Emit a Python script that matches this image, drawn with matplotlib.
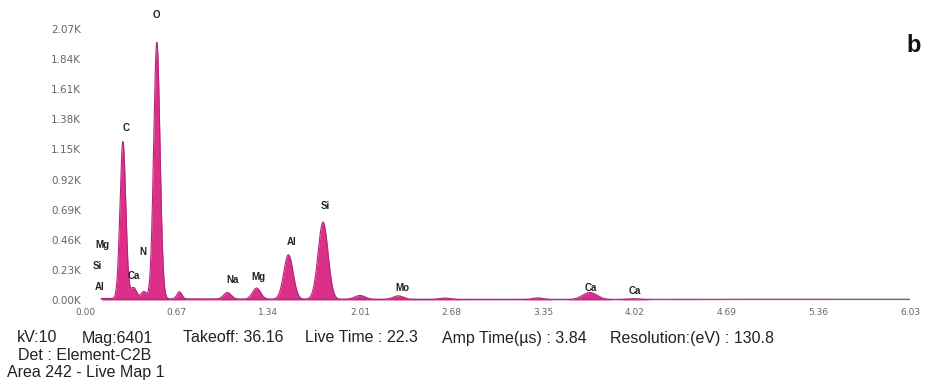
import numpy as np
import matplotlib
matplotlib.use("Agg")
import matplotlib.pyplot as plt

plt.rcParams['font.family'] = ['Liberation Sans', 'DejaVu Sans']

# ---- data ----
peak_energy = [0.277, 0.355, 0.43, 0.525, 0.69, 1.041, 1.254, 1.487, 1.740, 2.01, 2.29, 2.63, 3.31, 3.69, 4.01]
peak_height = [1200, 85, 55, 1960, 55, 50, 85, 340, 590, 30, 28, 12, 14, 55, 8]
peak_sigma = [0.021, 0.022, 0.020, 0.023, 0.018, 0.028, 0.030, 0.034, 0.036, 0.040, 0.040, 0.04, 0.04, 0.055, 0.05]
background_level = 12

x_ticks = [0.00, 0.67, 1.34, 2.01, 2.68, 3.35, 4.02, 4.69, 5.36, 6.03]
x_tick_labels = ["0.00", "0.67", "1.34", "2.01", "2.68", "3.35", "4.02", "4.69", "5.36", "6.03"]
y_ticks = [0, 230, 460, 690, 920, 1150, 1380, 1610, 1840, 2070]
y_tick_labels = ["0.00K", "0.23K", "0.46K", "0.69K", "0.92K", "1.15K", "1.38K", "1.61K", "1.84K", "2.07K"]

label_text = ["O", "C", "Si", "Al", "Na", "Mg", "Mo", "Ca", "Ca", "Mg", "Si", "Al", "N", "Ca"]
label_x = [0.525, 0.30, 1.755, 1.51, 1.075, 1.265, 2.32, 3.70, 4.02, 0.125, 0.09, 0.105, 0.425, 0.36]
label_y = [2180, 1310, 720, 440, 150, 175, 95, 95, 65, 420, 260, 100, 370, 185]

info_items = ["kV:10", "Mag:6401", "Takeoff: 36.16", "Live Time : 22.3",
              "Amp Time(\u00b5s) : 3.84", "Resolution:(eV) : 130.8"]
info_x_px = [17, 82, 183, 305, 442, 610]
info_line2 = "Det : Element-C2B"
info_line3 = "Area 242 - Live Map 1"

# ---- build spectrum ----
energy = np.linspace(0.12, 6.03, 3000)
counts = np.zeros_like(energy)
for e, h, s in zip(peak_energy, peak_height, peak_sigma):
    counts += h * np.exp(-0.5 * ((energy - e) / s) ** 2)
counts += background_level * np.exp(-energy / 2.0)

W, H = 925, 382
fig = plt.figure(figsize=(W / 100, H / 100), dpi=100)
ax = fig.add_axes([85 / W, 1 - 300 / H, (910 - 85) / W, (300 - 29) / H])
ax.set_xlim(0, 6.03)
ax.set_ylim(0, 2070)

ax.fill_between(energy, 0, counts, color='#dc2f88', lw=0, zorder=2)
ax.plot(energy, counts, color='#b8237a', lw=0.8, zorder=3)
ax.plot(energy, np.full_like(energy, 6), color='#6a3a8a', lw=0.9, alpha=0.6, zorder=3)
mask = energy > 4.3
ax.plot(energy[mask], np.full(mask.sum(), 10), color='#bfe6dc', lw=1.0, zorder=1)

ax.set_xticks(x_ticks)
ax.set_xticklabels(x_tick_labels, fontfamily='DejaVu Sans', fontsize=6.5)
ax.set_yticks(y_ticks)
ax.set_yticklabels(y_tick_labels, fontfamily='DejaVu Sans', fontsize=7.5)
ax.tick_params(length=0, colors='#666666')
ax.tick_params(axis='y', pad=3)
ax.tick_params(axis='x', pad=6)
for sp in ax.spines.values():
    sp.set_visible(False)

for t, lx, ly in zip(label_text, label_x, label_y):
    ax.text(lx, ly, t, ha='center', va='center', fontsize=7, fontweight='bold',
            color='#222222', clip_on=False, zorder=5)

for t, xp in zip(info_items, info_x_px):
    fig.text(xp / W, 1 - 338 / H, t, fontsize=11.5, color='#222222', va='center', ha='left')
fig.text(18 / W, 1 - 355 / H, info_line2, fontsize=11.5, color='#222222', va='center', ha='left')
fig.text(7 / W, 1 - 372 / H, info_line3, fontsize=11.5, color='#222222', va='center', ha='left')
fig.text(906 / W, 1 - 46 / H, "b", fontsize=17, fontweight='bold', color='#111111', va='center', ha='left')

fig.savefig("out.png", dpi=100)
